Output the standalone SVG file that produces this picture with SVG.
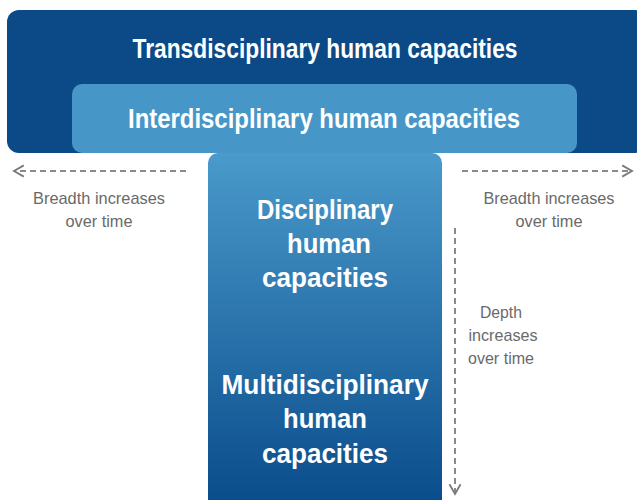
<svg xmlns="http://www.w3.org/2000/svg" width="637" height="500" viewBox="0 0 637 500">
<defs>
<linearGradient id="colGrad" x1="0" y1="0" x2="0" y2="1">
<stop offset="0" stop-color="#4a9acb"/>
<stop offset="1" stop-color="#0a4d8c"/>
</linearGradient>
<marker id="chev" viewBox="0 0 10 10" refX="8" refY="5" markerWidth="7" markerHeight="7" orient="auto" markerUnits="strokeWidth">
<path d="M1,1 L8,5 L1,9" fill="none" stroke="#7a7a7a" stroke-width="1.3"/>
</marker>
</defs>
<style>
.title{font-family:"Liberation Sans",Arial,sans-serif;font-weight:bold;fill:#ffffff;text-anchor:middle}
.note{font-family:"Liberation Sans",Arial,sans-serif;fill:#6a6a6a;font-size:17px;text-anchor:middle}
.conn{fill:none;stroke:#8a8a8a;stroke-width:2;stroke-dasharray:6 4}
</style>
<rect width="637" height="500" fill="#ffffff"/>
<g id="trans">
<rect x="7" y="10" width="640" height="143" rx="12" fill="#0b4a87"/>
<text class="title" x="325" y="58" font-size="27" textLength="385" lengthAdjust="spacingAndGlyphs">Transdisciplinary human capacities</text>
</g>
<g id="inter">
<rect x="72" y="84" width="505" height="69" rx="10" fill="#4796c8"/>
<text class="title" x="324" y="128" font-size="27" textLength="392" lengthAdjust="spacingAndGlyphs">Interdisciplinary human capacities</text>
</g>
<g id="column">
<path d="M208,163 a10,10 0 0 1 10,-10 h214 a10,10 0 0 1 10,10 V500 H208 Z" fill="url(#colGrad)"/>
<text class="title" x="325" y="219" font-size="27" textLength="136" lengthAdjust="spacingAndGlyphs">Disciplinary</text>
<text class="title" x="329" y="253" font-size="27" textLength="84" lengthAdjust="spacingAndGlyphs">human</text>
<text class="title" x="325" y="287" font-size="27" textLength="126" lengthAdjust="spacingAndGlyphs">capacities</text>
<text class="title" x="325" y="394" font-size="27" textLength="207" lengthAdjust="spacingAndGlyphs">Multidisciplinary</text>
<text class="title" x="325" y="428" font-size="27" textLength="84" lengthAdjust="spacingAndGlyphs">human</text>
<text class="title" x="325" y="463" font-size="27" textLength="126" lengthAdjust="spacingAndGlyphs">capacities</text>
</g>
<g id="connectors">
<line class="conn" x1="186" y1="171" x2="14" y2="171" marker-end="url(#chev)"/>
<line class="conn" x1="462" y1="171" x2="632" y2="171" marker-end="url(#chev)"/>
<line class="conn" x1="455" y1="228" x2="455" y2="494" marker-end="url(#chev)"/>
</g>
<g id="labels">
<text class="note" x="99" y="204" textLength="132" lengthAdjust="spacingAndGlyphs">Breadth increases</text>
<text class="note" x="99" y="227" textLength="67" lengthAdjust="spacingAndGlyphs">over time</text>
<text class="note" x="549" y="204" textLength="131" lengthAdjust="spacingAndGlyphs">Breadth increases</text>
<text class="note" x="549" y="227" textLength="67" lengthAdjust="spacingAndGlyphs">over time</text>
<text class="note" x="501" y="318" textLength="42" lengthAdjust="spacingAndGlyphs">Depth</text>
<text class="note" x="503" y="341" textLength="69" lengthAdjust="spacingAndGlyphs">increases</text>
<text class="note" x="501" y="364" textLength="66" lengthAdjust="spacingAndGlyphs">over time</text>
</g>
</svg>
